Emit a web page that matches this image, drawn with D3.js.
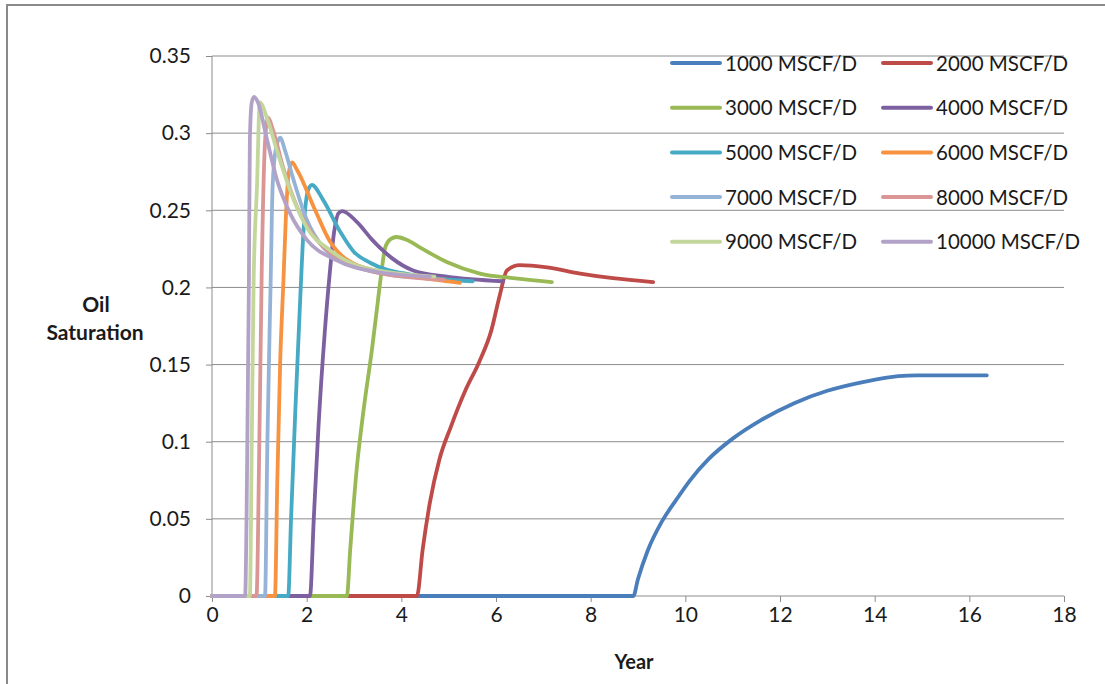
<!DOCTYPE html>
<html>
<head>
<meta charset="utf-8">
<script src="https://cdn.jsdelivr.net/npm/d3@7"></script>
<style>
  body { margin: 0; background: #fff; }
  text { font-family: Lato, "Open Sans", sans-serif; fill: #1a1a1a; }
  .grid line { stroke: #8c8c8c; stroke-width: 1; }
  .axis path, .axis line { stroke: #8c8c8c; }
  .series { fill: none; stroke-width: 3.8; stroke-linejoin: round; stroke-linecap: round; }
</style>
</head>
<body>
<svg width="1105" height="684"></svg>
<script>
// series names and colours (Excel 2007 default palette)
const rates = ["1000", "2000", "3000", "4000", "5000", "6000", "7000", "8000", "9000", "10000"];
const colors = ["#4a7ebb", "#be4b48", "#98b954", "#7d60a0", "#46aac5",
                "#f69240", "#95b3d7", "#d99694", "#c3d69b", "#b3a2c7"];

// [year, oil saturation]
const s1000 = [[0,0],[8.9,0],[9.0,0.011],[9.2,0.029],[9.5,0.048],[9.8,0.062],[10.1,0.075],[10.5,0.089],
  [11.0,0.102],[11.6,0.114],[12.3,0.125],[13.0,0.133],[13.8,0.139],[14.5,0.1425],[14.9,0.143],[16.37,0.143]];
const s2000 = [[0,0],[4.33,0],[4.45,0.03],[4.6,0.06],[4.8,0.088],[5.05,0.11],[5.35,0.133],[5.65,0.152],
  [5.9,0.172],[6.08,0.195],[6.23,0.211],[6.5,0.2145],[7.08,0.213],[7.78,0.209],[8.47,0.206],[9.32,0.2035]];
const s3000 = [[0,0],[2.85,0],[2.92,0.03],[3.05,0.08],[3.2,0.12],[3.38,0.16],[3.5,0.19],[3.58,0.21],
  [3.66,0.226],[3.78,0.2315],[3.9,0.2327],[4.1,0.231],[4.39,0.226],[4.96,0.2165],[5.66,0.209],[6.36,0.206],[7.18,0.2035]];
const s4000 = [[0,0],[2.07,0],[2.15,0.05],[2.25,0.11],[2.38,0.17],[2.49,0.21],[2.58,0.236],[2.67,0.248],
  [2.75,0.2495],[3.06,0.2425],[3.38,0.231],[3.8,0.219],[4.25,0.211],[4.96,0.207],[6.15,0.204]];
const s5000 = [[0,0],[1.61,0],[1.67,0.05],[1.76,0.12],[1.86,0.19],[1.94,0.24],[2.03,0.263],
  [2.11,0.2664],[2.35,0.2566],[2.71,0.236],[3.0,0.223],[3.34,0.216],[4.25,0.208],[5.51,0.204]];
const s6000 = [[0,0],[1.33,0],[1.38,0.075],[1.44,0.151],[1.51,0.205],[1.56,0.245],[1.62,0.274],
  [1.69,0.281],[1.8,0.276],[2.18,0.25],[2.49,0.23],[3.19,0.213],[4.25,0.207],[5.24,0.203]];
const s7000 = [[0,0],[1.12,0],[1.17,0.1],[1.24,0.205],[1.28,0.265],[1.35,0.29],[1.44,0.297],
  [1.54,0.289],[1.72,0.27],[2.0,0.244],[2.35,0.226],[3.0,0.214],[3.8,0.208],[4.7,0.206]];
const s8000 = [[0,0],[0.94,0],[1.0,0.1],[1.05,0.209],[1.12,0.294],[1.18,0.31],[1.29,0.302],
  [1.5,0.278],[1.8,0.252],[2.21,0.231],[2.8,0.217],[3.6,0.209],[4.9,0.205]];
const s9000 = [[0,0],[0.8,0],[0.84,0.1],[0.88,0.205],[0.95,0.265],[1.01,0.32],[1.16,0.31],
  [1.37,0.289],[1.65,0.263],[2.0,0.239],[2.5,0.224],[3.2,0.213],[4.7,0.207]];
const s10000 = [[0,0],[0.7,0],[0.73,0.05],[0.78,0.205],[0.8,0.296],[0.84,0.32],[0.89,0.3235],
  [0.97,0.32],[1.16,0.296],[1.37,0.27],[1.65,0.248],[2.0,0.231],[2.6,0.218],[3.5,0.21],[4.6,0.207]];

const xTicks = [0, 2, 4, 6, 8, 10, 12, 14, 16, 18];
const yTicks = [0, 0.05, 0.1, 0.15, 0.2, 0.25, 0.3, 0.35];

const seriesData = [s1000, s2000, s3000, s4000, s5000, s6000, s7000, s8000, s9000, s10000];

const svg = d3.select("svg");

// outer chart frame
svg.append("rect")
  .attr("x", 7).attr("y", 5)
  .attr("width", 1110).attr("height", 700)
  .attr("fill", "none")
  .attr("stroke", "#8a8a8a")
  .attr("stroke-width", 2);

const plot = { left: 212, right: 1064, top: 56, bottom: 596 };

const x = d3.scaleLinear().domain([0, 18]).range([plot.left, plot.right]);
const y = d3.scaleLinear().domain([0, 0.35]).range([plot.bottom, plot.top]);

// horizontal gridlines
svg.append("g")
  .attr("class", "grid")
  .selectAll("line")
  .data(yTicks.filter(d => d > 0))
  .join("line")
  .attr("x1", plot.left).attr("x2", plot.right)
  .attr("y1", d => y(d)).attr("y2", d => y(d));

// y axis
const yAxis = svg.append("g")
  .attr("class", "axis")
  .attr("transform", `translate(${plot.left},0)`)
  .call(d3.axisLeft(y).tickValues(yTicks).tickSize(6).tickPadding(15)
    .tickFormat(d => String(+d.toFixed(2))));
yAxis.selectAll("text").attr("font-size", 21).style("font-family", "Lato");
yAxis.select(".domain").attr("d", `M0,${plot.top}V${plot.bottom}`);

// x axis
const xAxis = svg.append("g")
  .attr("class", "axis")
  .attr("transform", `translate(0,${plot.bottom})`)
  .call(d3.axisBottom(x).tickValues(xTicks).tickSize(6).tickPadding(5));
xAxis.selectAll("text").attr("font-size", 21).style("font-family", "Lato");
xAxis.select(".domain").attr("d", `M${plot.left},0H${plot.right}`);

// axis titles
svg.append("text")
  .attr("x", 634).attr("y", 669)
  .attr("text-anchor", "middle")
  .attr("font-size", 20).attr("font-weight", "bold")
  .text("Year");

const yTitle = svg.append("text")
  .attr("text-anchor", "middle")
  .attr("font-size", 21).attr("font-weight", "bold");
yTitle.append("tspan").attr("x", 96).attr("y", 312).text("Oil");
yTitle.append("tspan").attr("x", 95).attr("y", 340).text("Saturation");

// lines
const line = d3.line()
  .x(d => x(d[0]))
  .y(d => y(d[1]))
  .curve(d3.curveMonotoneX);

svg.append("g")
  .selectAll("path")
  .data(seriesData)
  .join("path")
  .attr("class", "series")
  .attr("stroke", (d, i) => colors[i])
  .attr("d", line);

// legend, two columns
const legend = svg.append("g")
  .selectAll("g")
  .data(rates)
  .join("g")
  .attr("transform", (d, i) => `translate(${i % 2 === 0 ? 672 : 883},${63 + Math.floor(i / 2) * 44.7})`);

legend.append("line")
  .attr("x1", 0).attr("x2", 48)
  .attr("stroke", (d, i) => colors[i])
  .attr("stroke-width", 4)
  .attr("stroke-linecap", "round");

legend.append("text")
  .attr("x", 53).attr("y", 7.5)
  .attr("font-size", 20.5)
  .text(d => d + " MSCF/D");
</script>
</body>
</html>
